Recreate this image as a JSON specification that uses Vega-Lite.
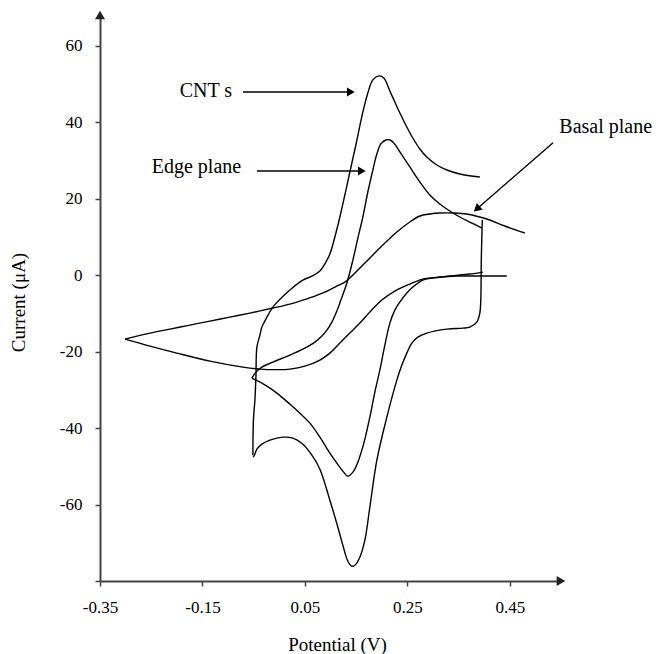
{
  "$schema": "https://vega.github.io/schema/vega-lite/v6.json",
  "width": 461,
  "height": 566,
  "autosize": {"type": "none"},
  "padding": {"left": 100, "top": 15, "right": 97, "bottom": 73},
  "background": "white",
  "config": {
    "view": {"stroke": null},
    "font": "Liberation Serif",
    "axis": {"labelFont": "Liberation Serif", "titleFont": "Liberation Serif"},
    "text": {"font": "Liberation Serif"}
  },
  "datasets": {
    "curves": [
      {"g":"CNTa","i":0,"x":-0.0515,"y":-47.10},
      {"g":"CNTa","i":1,"x":-0.0505,"y":-37.94},
      {"g":"CNTa","i":2,"x":-0.0476,"y":-32.71},
      {"g":"CNTa","i":3,"x":-0.0456,"y":-26.69},
      {"g":"CNTa","i":4,"x":-0.0437,"y":-18.84},
      {"g":"CNTa","i":5,"x":-0.0378,"y":-15.70},
      {"g":"CNTa","i":6,"x":-0.0339,"y":-13.61},
      {"g":"CNTa","i":7,"x":-0.0241,"y":-10.99},
      {"g":"CNTa","i":8,"x":-0.0124,"y":-8.37},
      {"g":"CNTa","i":9,"x":0.0207,"y":-3.92},
      {"g":"CNTa","i":10,"x":0.0461,"y":-1.31},
      {"g":"CNTa","i":11,"x":0.0637,"y":-0.26},
      {"g":"CNTa","i":12,"x":0.0793,"y":1.05},
      {"g":"CNTa","i":13,"x":0.0910,"y":3.40},
      {"g":"CNTa","i":14,"x":0.0988,"y":5.49},
      {"g":"CNTa","i":15,"x":0.1085,"y":9.94},
      {"g":"CNTa","i":16,"x":0.1183,"y":15.18},
      {"g":"CNTa","i":17,"x":0.1280,"y":20.93},
      {"g":"CNTa","i":18,"x":0.1378,"y":26.95},
      {"g":"CNTa","i":19,"x":0.1495,"y":34.01},
      {"g":"CNTa","i":20,"x":0.1632,"y":42.65},
      {"g":"CNTa","i":21,"x":0.1729,"y":47.62},
      {"g":"CNTa","i":22,"x":0.1827,"y":51.02},
      {"g":"CNTa","i":23,"x":0.1944,"y":52.07},
      {"g":"CNTa","i":24,"x":0.2041,"y":51.54},
      {"g":"CNTa","i":25,"x":0.2159,"y":48.14},
      {"g":"CNTa","i":26,"x":0.2256,"y":45.26},
      {"g":"CNTa","i":27,"x":0.2354,"y":42.39},
      {"g":"CNTa","i":28,"x":0.2490,"y":38.72},
      {"g":"CNTa","i":29,"x":0.2607,"y":35.84},
      {"g":"CNTa","i":30,"x":0.2744,"y":32.97},
      {"g":"CNTa","i":31,"x":0.2880,"y":30.87},
      {"g":"CNTa","i":32,"x":0.3076,"y":28.78},
      {"g":"CNTa","i":33,"x":0.3271,"y":27.47},
      {"g":"CNTa","i":34,"x":0.3524,"y":26.43},
      {"g":"CNTa","i":35,"x":0.3915,"y":25.64},

      {"g":"CNTb","i":0,"x":0.3963,"y":14.39},
      {"g":"CNTb","i":1,"x":0.3944,"y":3.92},
      {"g":"CNTb","i":2,"x":0.3934,"y":-6.54},
      {"g":"CNTb","i":3,"x":0.3915,"y":-9.94},
      {"g":"CNTb","i":4,"x":0.3856,"y":-12.30},
      {"g":"CNTb","i":5,"x":0.3720,"y":-13.61},
      {"g":"CNTb","i":6,"x":0.3583,"y":-13.87},
      {"g":"CNTb","i":7,"x":0.3271,"y":-14.13},
      {"g":"CNTb","i":8,"x":0.2880,"y":-15.18},
      {"g":"CNTb","i":9,"x":0.2705,"y":-16.22},
      {"g":"CNTb","i":10,"x":0.2588,"y":-17.79},
      {"g":"CNTb","i":11,"x":0.2490,"y":-20.41},
      {"g":"CNTb","i":12,"x":0.2393,"y":-23.55},
      {"g":"CNTb","i":13,"x":0.2295,"y":-27.47},
      {"g":"CNTb","i":14,"x":0.2100,"y":-37.15},
      {"g":"CNTb","i":15,"x":0.1905,"y":-48.40},
      {"g":"CNTb","i":16,"x":0.1768,"y":-60.70},
      {"g":"CNTb","i":17,"x":0.1671,"y":-69.33},
      {"g":"CNTb","i":18,"x":0.1573,"y":-73.78},
      {"g":"CNTb","i":19,"x":0.1476,"y":-75.88},
      {"g":"CNTb","i":20,"x":0.1417,"y":-76.14},
      {"g":"CNTb","i":21,"x":0.1339,"y":-74.83},
      {"g":"CNTb","i":22,"x":0.1241,"y":-70.64},
      {"g":"CNTb","i":23,"x":0.1144,"y":-65.93},
      {"g":"CNTb","i":24,"x":0.0988,"y":-58.87},
      {"g":"CNTb","i":25,"x":0.0793,"y":-50.76},
      {"g":"CNTb","i":26,"x":0.0637,"y":-47.10},
      {"g":"CNTb","i":27,"x":0.0461,"y":-44.22},
      {"g":"CNTb","i":28,"x":0.0266,"y":-42.65},
      {"g":"CNTb","i":29,"x":0.0071,"y":-42.39},
      {"g":"CNTb","i":30,"x":-0.0183,"y":-43.17},
      {"g":"CNTb","i":31,"x":-0.0339,"y":-44.22},
      {"g":"CNTb","i":32,"x":-0.0437,"y":-45.53},
      {"g":"CNTb","i":33,"x":-0.0495,"y":-47.36},
      {"g":"CNTb","i":34,"x":-0.0515,"y":-47.62},

      {"g":"Edgea","i":0,"x":-0.0534,"y":-26.95},
      {"g":"Edgea","i":1,"x":-0.0456,"y":-25.38},
      {"g":"Edgea","i":2,"x":-0.0339,"y":-24.07},
      {"g":"Edgea","i":3,"x":-0.0124,"y":-22.76},
      {"g":"Edgea","i":4,"x":0.0207,"y":-20.93},
      {"g":"Edgea","i":5,"x":0.0461,"y":-19.36},
      {"g":"Edgea","i":6,"x":0.0695,"y":-17.53},
      {"g":"Edgea","i":7,"x":0.0832,"y":-15.96},
      {"g":"Edgea","i":8,"x":0.0929,"y":-14.39},
      {"g":"Edgea","i":9,"x":0.1027,"y":-12.30},
      {"g":"Edgea","i":10,"x":0.1124,"y":-9.42},
      {"g":"Edgea","i":11,"x":0.1202,"y":-6.54},
      {"g":"Edgea","i":12,"x":0.1320,"y":-2.09},
      {"g":"Edgea","i":13,"x":0.1437,"y":3.92},
      {"g":"Edgea","i":14,"x":0.1534,"y":9.68},
      {"g":"Edgea","i":15,"x":0.1632,"y":15.18},
      {"g":"Edgea","i":16,"x":0.1729,"y":21.72},
      {"g":"Edgea","i":17,"x":0.1827,"y":27.47},
      {"g":"Edgea","i":18,"x":0.1905,"y":31.66},
      {"g":"Edgea","i":19,"x":0.1983,"y":34.28},
      {"g":"Edgea","i":20,"x":0.2080,"y":35.32},
      {"g":"Edgea","i":21,"x":0.2159,"y":35.32},
      {"g":"Edgea","i":22,"x":0.2237,"y":34.54},
      {"g":"Edgea","i":23,"x":0.2354,"y":32.18},
      {"g":"Edgea","i":24,"x":0.2549,"y":28.26},
      {"g":"Edgea","i":25,"x":0.2744,"y":24.33},
      {"g":"Edgea","i":26,"x":0.2939,"y":20.93},
      {"g":"Edgea","i":27,"x":0.3134,"y":18.58},
      {"g":"Edgea","i":28,"x":0.3329,"y":16.75},
      {"g":"Edgea","i":29,"x":0.3524,"y":15.18},
      {"g":"Edgea","i":30,"x":0.3759,"y":13.61},
      {"g":"Edgea","i":31,"x":0.3954,"y":12.30},

      {"g":"Edgeb","i":0,"x":0.3973,"y":0.78},
      {"g":"Edgeb","i":1,"x":0.3720,"y":0.26},
      {"g":"Edgeb","i":2,"x":0.3329,"y":-0.26},
      {"g":"Edgeb","i":3,"x":0.2998,"y":-0.78},
      {"g":"Edgeb","i":4,"x":0.2802,"y":-1.31},
      {"g":"Edgeb","i":5,"x":0.2607,"y":-3.14},
      {"g":"Edgeb","i":6,"x":0.2490,"y":-4.71},
      {"g":"Edgeb","i":7,"x":0.2354,"y":-7.06},
      {"g":"Edgeb","i":8,"x":0.2256,"y":-9.16},
      {"g":"Edgeb","i":9,"x":0.2159,"y":-12.56},
      {"g":"Edgeb","i":10,"x":0.2061,"y":-18.32},
      {"g":"Edgeb","i":11,"x":0.1963,"y":-24.86},
      {"g":"Edgeb","i":12,"x":0.1866,"y":-30.61},
      {"g":"Edgeb","i":13,"x":0.1768,"y":-37.15},
      {"g":"Edgeb","i":14,"x":0.1651,"y":-43.96},
      {"g":"Edgeb","i":15,"x":0.1534,"y":-48.93},
      {"g":"Edgeb","i":16,"x":0.1437,"y":-51.54},
      {"g":"Edgeb","i":17,"x":0.1339,"y":-52.59},
      {"g":"Edgeb","i":18,"x":0.1241,"y":-51.28},
      {"g":"Edgeb","i":19,"x":0.1124,"y":-49.19},
      {"g":"Edgeb","i":20,"x":0.0988,"y":-46.57},
      {"g":"Edgeb","i":21,"x":0.0793,"y":-42.39},
      {"g":"Edgeb","i":22,"x":0.0598,"y":-38.72},
      {"g":"Edgeb","i":23,"x":0.0402,"y":-36.11},
      {"g":"Edgeb","i":24,"x":0.0207,"y":-33.75},
      {"g":"Edgeb","i":25,"x":0.0071,"y":-32.18},
      {"g":"Edgeb","i":26,"x":-0.0124,"y":-30.09},
      {"g":"Edgeb","i":27,"x":-0.0339,"y":-28.26},
      {"g":"Edgeb","i":28,"x":-0.0456,"y":-27.47},
      {"g":"Edgeb","i":29,"x":-0.0534,"y":-26.95},

      {"g":"Basala","i":0,"x":-0.3012,"y":-16.75},
      {"g":"Basala","i":1,"x":-0.2524,"y":-15.18},
      {"g":"Basala","i":2,"x":-0.2134,"y":-14.13},
      {"g":"Basala","i":3,"x":-0.1744,"y":-13.08},
      {"g":"Basala","i":4,"x":-0.1354,"y":-12.04},
      {"g":"Basala","i":5,"x":-0.0963,"y":-10.99},
      {"g":"Basala","i":6,"x":-0.0573,"y":-9.94},
      {"g":"Basala","i":7,"x":-0.0124,"y":-8.63},
      {"g":"Basala","i":8,"x":0.0207,"y":-7.59},
      {"g":"Basala","i":9,"x":0.0461,"y":-6.54},
      {"g":"Basala","i":10,"x":0.0695,"y":-5.49},
      {"g":"Basala","i":11,"x":0.0890,"y":-4.45},
      {"g":"Basala","i":12,"x":0.1085,"y":-3.14},
      {"g":"Basala","i":13,"x":0.1280,"y":-1.83},
      {"g":"Basala","i":14,"x":0.1437,"y":0.00},
      {"g":"Basala","i":15,"x":0.1632,"y":2.62},
      {"g":"Basala","i":16,"x":0.1827,"y":5.23},
      {"g":"Basala","i":17,"x":0.2061,"y":8.37},
      {"g":"Basala","i":18,"x":0.2295,"y":11.25},
      {"g":"Basala","i":19,"x":0.2549,"y":13.87},
      {"g":"Basala","i":20,"x":0.2744,"y":15.44},
      {"g":"Basala","i":21,"x":0.2939,"y":15.96},
      {"g":"Basala","i":22,"x":0.3134,"y":16.22},
      {"g":"Basala","i":23,"x":0.3427,"y":16.22},
      {"g":"Basala","i":24,"x":0.3661,"y":15.96},
      {"g":"Basala","i":25,"x":0.3915,"y":15.18},
      {"g":"Basala","i":26,"x":0.4110,"y":14.39},
      {"g":"Basala","i":27,"x":0.4402,"y":12.82},
      {"g":"Basala","i":28,"x":0.4793,"y":10.99},

      {"g":"Basalb","i":0,"x":0.4441,"y":-0.26},
      {"g":"Basalb","i":1,"x":0.3915,"y":-0.26},
      {"g":"Basalb","i":2,"x":0.3466,"y":-0.26},
      {"g":"Basalb","i":3,"x":0.3134,"y":-0.52},
      {"g":"Basalb","i":4,"x":0.2802,"y":-1.05},
      {"g":"Basalb","i":5,"x":0.2549,"y":-2.35},
      {"g":"Basalb","i":6,"x":0.2256,"y":-4.19},
      {"g":"Basalb","i":7,"x":0.2002,"y":-6.54},
      {"g":"Basalb","i":8,"x":0.1768,"y":-9.68},
      {"g":"Basalb","i":9,"x":0.1573,"y":-12.56},
      {"g":"Basalb","i":10,"x":0.1378,"y":-15.18},
      {"g":"Basalb","i":11,"x":0.1183,"y":-17.79},
      {"g":"Basalb","i":12,"x":0.0988,"y":-20.41},
      {"g":"Basalb","i":13,"x":0.0793,"y":-22.24},
      {"g":"Basalb","i":14,"x":0.0500,"y":-23.81},
      {"g":"Basalb","i":15,"x":0.0207,"y":-24.59},
      {"g":"Basalb","i":16,"x":-0.0046,"y":-24.73},
      {"g":"Basalb","i":17,"x":-0.0378,"y":-24.59},
      {"g":"Basalb","i":18,"x":-0.0710,"y":-24.07},
      {"g":"Basalb","i":19,"x":-0.1354,"y":-22.50},
      {"g":"Basalb","i":20,"x":-0.2000,"y":-20.41},
      {"g":"Basalb","i":21,"x":-0.2524,"y":-18.58},
      {"g":"Basalb","i":22,"x":-0.3012,"y":-16.75}
    ],
    "arrows": [
      {"x":-0.0710,"y":47.88,"x2":0.1398,"y2":47.88},
      {"x":-0.0437,"y":27.21,"x2":0.1612,"y2":27.21},
      {"x":0.5345,"y":34.62,"x2":0.3856,"y2":17.27}
    ],
    "headsH": [
      {"x":0.1398,"y":47.88},
      {"x":0.1612,"y":27.21}
    ],
    "headsB": [
      {"x":0.3856,"y":17.27}
    ],
    "labels": [
      {"x":-0.1432,"y":48.14,"label":"CNT s"},
      {"x":-0.1617,"y":28.26,"label":"Edge plane"},
      {"x":0.6373,"y":38.72,"label":"Basal plane"}
    ],
    "xEnd": [{"x":0.55,"y":-80}],
    "yEnd": [{"x":-0.35,"y":68}]
  },
  "encoding": {
    "x": {
      "field": "x",
      "type": "quantitative",
      "scale": {"domain": [-0.35, 0.55], "nice": false, "zero": false},
      "axis": {
        "values": [-0.35, -0.15, 0.05, 0.25, 0.45],
        "labelExpr": "datum.value < 0 ? '-' + format(abs(datum.value), '.2f') : format(datum.value, '.2f')",
        "grid": false,
        "domainColor": "#444",
        "domainWidth": 2,
        "tickColor": "#444",
        "tickWidth": 1.5,
        "tickSize": 5,
        "labelFont": "Liberation Serif",
        "labelFontSize": 17,
        "labelColor": "black",
        "labelBaseline": "middle",
        "labelPadding": 21,
        "labelFlush": false,
        "labelOverlap": false,
        "title": "Potential (V)",
        "titleFont": "Liberation Serif",
        "titleFontSize": 19,
        "titleFontWeight": "normal",
        "titleColor": "black",
        "titleX": 237,
        "titleY": 63,
        "titleAlign": "center",
        "titleBaseline": "middle"
      }
    },
    "y": {
      "field": "y",
      "type": "quantitative",
      "scale": {"domain": [-80, 68], "nice": false, "zero": false},
      "axis": {
        "values": [-80, -60, -40, -20, 0, 20, 40, 60],
        "labelExpr": "datum.value == -80 ? '' : (datum.value < 0 ? '-' + abs(datum.value) : '' + datum.value)",
        "grid": false,
        "domainColor": "#444",
        "domainWidth": 2,
        "tickColor": "#444",
        "tickWidth": 1.5,
        "tickSize": 5,
        "labelFont": "Liberation Serif",
        "labelFontSize": 17,
        "labelColor": "black",
        "labelBaseline": "middle",
        "labelAlign": "right",
        "labelPadding": 13,
        "labelFlush": false,
        "labelOverlap": false,
        "title": "Current (μA)",
        "titleFont": "Liberation Serif",
        "titleFontSize": 19,
        "titleFontWeight": "normal",
        "titleColor": "black",
        "titleAngle": -90,
        "titleX": -82,
        "titleY": 287,
        "titleAlign": "center",
        "titleBaseline": "middle"
      }
    }
  },
  "layer": [
    {
      "data": {"name": "curves"},
      "mark": {"type": "line", "color": "black", "strokeWidth": 1.4, "interpolate": "catmull-rom"},
      "encoding": {
        "detail": {"field": "g", "type": "nominal"},
        "order": {"field": "i", "type": "quantitative"}
      }
    },
    {
      "data": {"name": "arrows"},
      "mark": {"type": "rule", "color": "black", "strokeWidth": 1.4},
      "encoding": {
        "x2": {"field": "x2"},
        "y2": {"field": "y2"}
      }
    },
    {
      "data": {"name": "headsH"},
      "mark": {"type": "point", "shape": "triangle-right", "filled": true, "color": "black", "size": 80, "opacity": 1}
    },
    {
      "data": {"name": "headsB"},
      "mark": {"type": "point", "shape": "triangle-right", "filled": true, "color": "black", "size": 80, "angle": 139, "opacity": 1}
    },
    {
      "data": {"name": "labels"},
      "mark": {"type": "text", "font": "Liberation Serif", "fontSize": 20, "color": "black", "align": "center", "baseline": "middle"},
      "encoding": {"text": {"field": "label", "type": "nominal"}}
    },
    {
      "data": {"name": "xEnd"},
      "mark": {"type": "point", "shape": "triangle-right", "filled": true, "color": "#222", "size": 100, "opacity": 1}
    },
    {
      "data": {"name": "yEnd"},
      "mark": {"type": "point", "shape": "triangle-up", "filled": true, "color": "#222", "size": 100, "opacity": 1}
    }
  ]
}
